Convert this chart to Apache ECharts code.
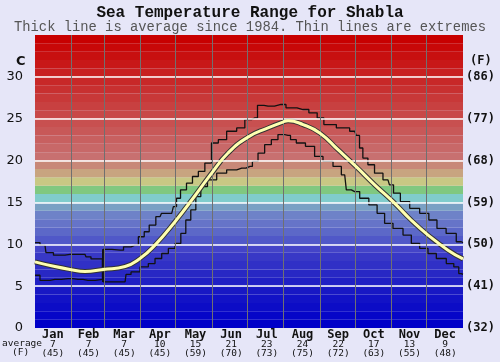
<!DOCTYPE html>
<html>
<head>
<meta charset="utf-8">
<script src="https://cdn.jsdelivr.net/npm/echarts@6/dist/echarts.min.js"></script>
<style>
html,body{margin:0;padding:0;background:#e6e6f8;}
#c{width:500px;height:362px;}
</style>
</head>
<body>
<div id="c"></div>
<script>
// ---- data ----
var months = ['Jan','Feb','Mar','Apr','May','Jun','Jul','Aug','Sep','Oct','Nov','Dec'];
var monthAvgC = [7,7,7,10,15,21,23,24,22,17,13,9];
var monthAvgF = [45,45,45,45,59,70,73,75,72,63,55,48];
var monthStartDays = [31,59,90,120,151,181,212,243,273,304,334];
var yTicksC = [0,5,10,15,20,25,30];

var avgDays  = [0,15,29.8,42.6,58,76.8,89.5,102.3,119.4,136.4,150.7,164.6,181.6,198.7,211.5,215.8,228.6,242.8,258.4,273.7,289.7,305.3,320.7,335.2,352.2,365];
var avgTemps = [7.9,7.4,7.0,6.75,7.0,7.35,8.3,9.9,12.7,15.8,18.5,20.9,22.8,23.9,24.6,24.75,24.3,23.3,21.3,19.3,17.1,15.1,12.9,11.1,9.3,8.25];

var maxDays  = [0,8.5,10.2,21.3,29.8,42.6,44.3,51.2,57.5,58,58.5,72.5,78.5,85.3,91,95.3,99.5,106.6,109.2,116.6,119.4,122,126.2,132.2,136.4,142.2,147.5,153.5,159.2,167.7,176.3,181.6,187.6,191.9,198.7,209.8,218.3,228.6,238.5,242.8,249.9,264.1,272.6,275.5,278,281.2,286.6,292.5,301,303.6,307.9,315.3,323.8,332.3,339.4,346.2,355,363.5,365];
var maxTemps = [10.2,9.9,9.0,8.7,8.8,8.8,8.5,8.25,8.25,5.5,9.4,9.3,9.7,9.9,10.9,11.5,12.3,13.3,13.7,13.7,14.5,15.5,16.5,17.3,18.1,18.7,19.7,22.1,22.5,23.5,23.9,24.9,25.1,26.6,26.5,26.7,26.3,26.1,25.7,25.1,24.3,23.9,23.5,23.0,21.5,20.3,19.5,18.5,17.7,17.1,16.1,15.1,14.3,13.7,12.9,11.9,11.3,10.3,10.2];

var minDays  = [0,8.5,17,28.1,36.7,45.2,57.5,58,58.5,76.8,78.5,85.3,93.8,99.5,105.2,110.9,116.6,122.2,126.5,130.7,135,139.3,143.5,150.7,159.2,167.7,176.3,183.4,187.4,193,198.7,204.4,210,215.8,220,225.7,235.6,241.3,249.9,258.4,264.1,266.9,272.6,281.2,288.2,295.3,301,309.6,318.1,323.8,332.3,338,346.5,355,359.3,363.5,365];
var minTemps = [6.3,5.7,5.8,5.9,5.8,5.7,5.8,9.4,5.5,5.5,6.4,6.7,7.3,7.7,8.3,8.9,9.5,10.1,11.3,12.9,14.1,15.7,16.9,17.7,18.5,18.9,19.1,19.3,19.9,20.9,21.9,22.5,23.1,23.0,22.5,22.1,21.7,20.5,19.9,19.3,18.3,16.5,16.3,15.5,14.7,13.7,12.5,11.9,11.1,10.1,9.5,8.9,8.3,7.7,7.3,6.5,6.4];

// ---- styles ----
var bandColors = [
 '#0000c8','#0606c8','#0c0cc6','#1212c6','#1818c4','#2020c4','#2828c4','#3030c6','#3838c6','#4444c8',
 '#5058c8','#5c68c8','#6674c8','#6e82c8','#7aa0c4','#80cccc','#80c880','#c8c884','#c8a480','#c88878',
 '#c87070','#c86868','#c86060','#c85858','#c85050','#c84848','#c84040','#c83838','#c83030','#c82828',
 '#c82020','#c81818','#c81010','#c80808','#c80000'
];

function pairs(xs, ys){ return xs.map(function(x,i){ return [x, ys[i]]; }); }

var areas = bandColors.map(function(c,i){
  return [{yAxis:i, itemStyle:{color:c}}, {yAxis:i+1}];
});
var gridLines = [];
yTicksC.forEach(function(v){ if(v>0) gridLines.push({yAxis:v, lineStyle:{color:'#ffffff', width:1.6, type:'solid'}}); });
monthStartDays.forEach(function(d){ gridLines.push({xAxis:d, lineStyle:{color:'#707070', width:1, type:'solid'}}); });

var chart = echarts.init(document.getElementById('c'), null, {renderer:'canvas'});
var mono = '"DejaVu Sans Mono", "Liberation Mono", monospace';
chart.setOption({
  backgroundColor:'#e6e6f8',
  animation:false,
  title:[
    {text:'Sea Temperature Range for Shabla', left:'center', top:0,
     textStyle:{fontFamily:'"Liberation Mono", monospace', fontWeight:'bold', fontSize:16, color:'#111'}},
    {text:'Thick line is average since 1984. Thin lines are extremes', left:'center', top:15,
     textStyle:{fontFamily:'"Liberation Mono", monospace', fontWeight:'normal', fontSize:13.8, color:'#555'}}
  ],
  grid:{left:35, right:37, top:35, bottom:34},
  xAxis:[
    {type:'value', min:0, max:365, show:false},
    {type:'category', data:months, position:'bottom', boundaryGap:true,
     axisLine:{show:false}, axisTick:{show:false}, splitLine:{show:false},
     axisLabel:{margin:1, interval:0,
       formatter:function(v, i){ return '{m|'+v+'}\n{v|'+monthAvgC[i]+'}\n{v|('+monthAvgF[i]+')}'; },
       rich:{
         m:{fontFamily:mono, fontWeight:'bold', fontSize:12, lineHeight:11, color:'#111', align:'center'},
         v:{fontFamily:mono, fontWeight:'normal', fontSize:9.5, lineHeight:9, color:'#111', align:'center'}
       }}}
  ],
  yAxis:[
    {type:'value', min:0, max:35, interval:5, position:'left',
     axisLine:{show:false}, axisTick:{show:false}, splitLine:{show:false},
     axisLabel:{margin:12, fontFamily:'"DejaVu Sans", sans-serif', fontSize:13, color:'#111',
       formatter:function(v){ return v>=35 ? '' : String(v); }}},
    {type:'value', min:0, max:35, interval:5, position:'right',
     axisLine:{show:false}, axisTick:{show:false}, splitLine:{show:false},
     axisLabel:{margin:3, fontFamily:mono, fontWeight:'bold', fontSize:12, color:'#111',
       formatter:function(v){ return v>=35 ? '' : '('+Math.round(v*9/5+32)+')'; }}}
  ],
  graphic:[
    {type:'text', left:16, top:55, style:{text:'C', font:'bold 13px "DejaVu Sans", sans-serif', fill:'#111'}},
    {type:'text', left:470, top:55, style:{text:'(F)', font:'bold 12px "DejaVu Sans Mono", monospace', fill:'#111'}},
    {type:'text', left:2, top:339, style:{text:'average', font:'9.5px "DejaVu Sans Mono", monospace', fill:'#111'}},
    {type:'text', left:12, top:348, style:{text:'(F)', font:'9.5px "DejaVu Sans Mono", monospace', fill:'#111'}}
  ],
  series:[
    {type:'line', z:1, silent:true, symbol:'none', data:pairs(avgDays, avgTemps), lineStyle:{opacity:0},
     markArea:{silent:true, data:areas}},
    {type:'line', z:2, silent:true, symbol:'none', data:pairs(avgDays, avgTemps), lineStyle:{opacity:0},
     markLine:{silent:true, symbol:['none','none'], label:{show:false}, data:gridLines}},
    {type:'line', z:3, silent:true, symbol:'none', step:'middle', data:pairs(maxDays, maxTemps), lineStyle:{color:'#111', width:1.3}},
    {type:'line', z:3, silent:true, symbol:'none', step:'middle', data:pairs(minDays, minTemps), lineStyle:{color:'#111', width:1.3}},
    {type:'line', z:4, silent:true, symbol:'none', smooth:true, data:pairs(avgDays, avgTemps), lineStyle:{color:'#333', width:5}},
    {type:'line', z:5, silent:true, symbol:'none', smooth:true, data:pairs(avgDays, avgTemps), lineStyle:{color:'#ffffb0', width:3}}
  ]
});
</script>
</body>
</html>
